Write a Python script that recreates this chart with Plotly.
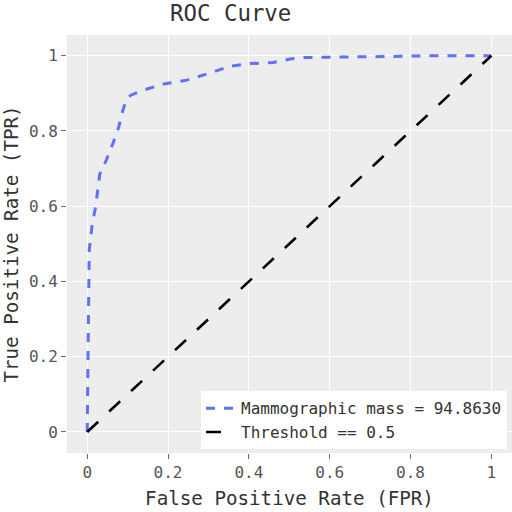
import plotly.graph_objects as go

fpr = [0.0, 0.002, 0.005, 0.012, 0.021, 0.031, 0.047, 0.064, 0.078, 0.087, 0.097, 0.108,
       0.14, 0.19, 0.246, 0.31, 0.352, 0.403, 0.46, 0.502, 0.535, 0.75, 0.85, 1.0]
tpr = [0.0, 0.25, 0.483, 0.548, 0.6, 0.685, 0.722, 0.768, 0.81, 0.85, 0.885, 0.895,
       0.909, 0.925, 0.935, 0.956, 0.972, 0.979, 0.982, 0.991, 0.995, 0.998, 1.0, 1.0]
thr_x = [0, 1]
thr_y = [0, 1]

roc_name = "Mammographic mass = 94.8630"
thr_name = "Threshold == 0.5"

FONT = "DejaVu Sans Mono"
W = H = 512

fig = go.Figure()
fig.add_trace(go.Scatter(x=fpr, y=tpr, mode="lines", name=roc_name,
                         line=dict(color="#636efa", width=3, dash="dash")))
fig.add_trace(go.Scatter(x=thr_x, y=thr_y, mode="lines", name=thr_name,
                         line=dict(color="black", width=2.6, dash="longdash")))

tick_font = dict(color="rgb(85,85,85)")

fig.update_layout(
    template="ggplot2",
    width=W, height=H,
    margin=dict(l=67, r=0, t=35, b=59, autoexpand=False),
    font=dict(family=FONT, size=16, color="rgb(51,51,51)"),
    title=dict(text="ROC Curve", x=170/W, xanchor="left", xref="container",
               y=1-13/H, yanchor="middle", yref="container",
               font=dict(family=FONT, size=22.4, color="rgb(51,51,51)")),
    xaxis=dict(title=dict(text="False Positive Rate (FPR)", font=dict(size=19.2), standoff=10),
               range=[-0.05, 1.051], dtick=0.2, zeroline=False, automargin=False,
               tickfont=tick_font, tickcolor="rgb(110,110,110)"),
    yaxis=dict(title=dict(text="True Positive Rate (TPR)", font=dict(size=19.2), standoff=7),
               range=[-0.056, 1.055], dtick=0.2, zeroline=False, automargin=False,
               tickfont=tick_font, tickcolor="rgb(110,110,110)"),
    legend=dict(x=(201-67)/445, y=0.009, xanchor="left", yanchor="bottom",
                bgcolor="white", font=dict(size=16)),
)

fig.write_html("out.html", config={"displayModeBar": False},
               post_script="document.body.style.margin='0';")
